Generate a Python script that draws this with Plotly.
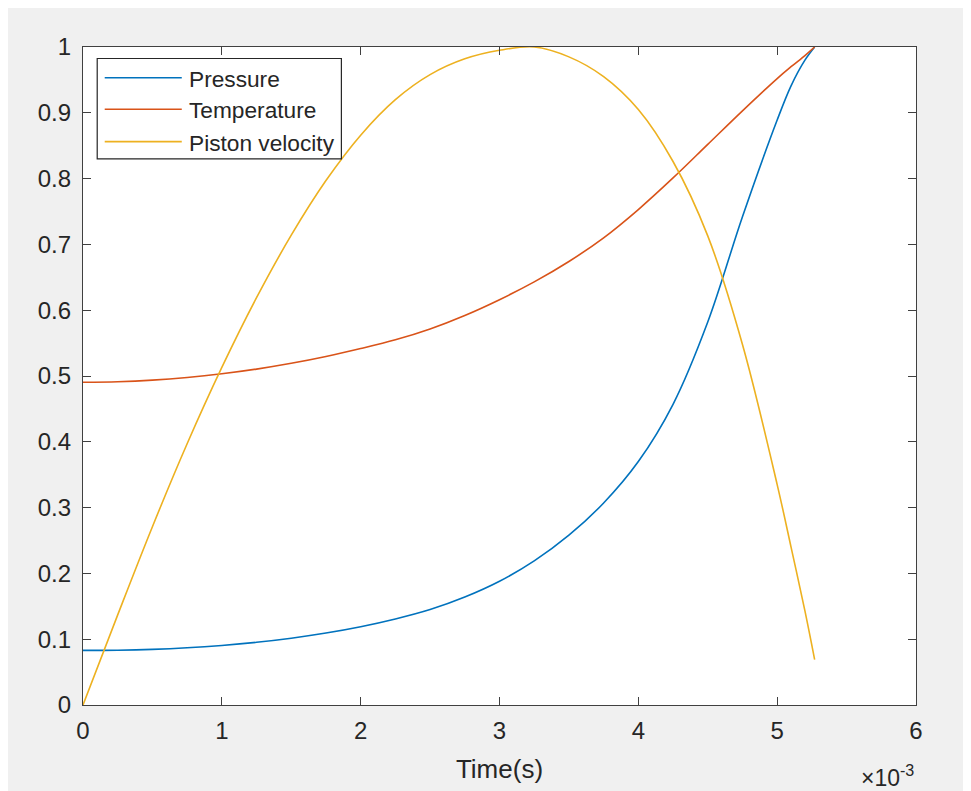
import plotly.graph_objects as go

# ---------------- data ----------------
time_ms = [0, 0.25, 0.5, 0.75, 1, 1.25, 1.5, 1.75, 2, 2.25, 2.5, 2.75, 3,
           3.25, 3.5, 3.75, 4, 4.25, 4.5, 4.75, 5, 5.1, 5.2, 5.27]
pressure = [0.083, 0.0833, 0.0845, 0.0869, 0.0905, 0.0953, 0.1015, 0.1093, 0.1189,
            0.1307, 0.145, 0.164, 0.188, 0.219, 0.258, 0.307, 0.370, 0.457,
            0.582, 0.742, 0.889, 0.941, 0.980, 1.0]
temperature = [0.4905, 0.4913, 0.4937, 0.4977, 0.5033, 0.5105, 0.5193, 0.5297, 0.5417,
               0.555, 0.5715, 0.592, 0.616, 0.643, 0.674, 0.710, 0.753, 0.801,
               0.852, 0.903, 0.952, 0.970, 0.987, 1.0]
piston_velocity = [0.0, 0.137, 0.271, 0.397, 0.513, 0.619, 0.714, 0.797, 0.866,
                   0.920, 0.958, 0.982, 0.995, 1.0, 0.985, 0.955, 0.905, 0.826,
                   0.713, 0.548, 0.335, 0.240, 0.143, 0.069]
series_names = ["Pressure", "Temperature", "Piston velocity"]
series_colors = ["#0072BD", "#D95319", "#EDB120"]
x_tick_vals = [0, 0.001, 0.002, 0.003, 0.004, 0.005, 0.006]
x_tick_text = ["0", "1", "2", "3", "4", "5", "6"]
y_tick_vals = [0, 0.1, 0.2, 0.3, 0.4, 0.5, 0.6, 0.7, 0.8, 0.9, 1.0]
y_tick_text = ["0", "0.1", "0.2", "0.3", "0.4", "0.5", "0.6", "0.7", "0.8", "0.9", "1"]

time_s = [t * 1e-3 for t in time_ms]

OFF = 8  # page body margin
W, H = 971 - OFF, 791 - OFF
L, T = 83.3 - OFF, 47 - OFF
R = W - (915.7 - OFF)
B = H - (705.5 - OFF)
pw, ph = W - L - R, H - T - B

def px(x):
    return (x - OFF - L) / pw

def py(y):
    return (H - B - (y - OFF)) / ph

FONT = "Liberation Sans, Arial, sans-serif"
TXT = "#262626"

fig = go.Figure()
for name, vals, col in zip(series_names, [pressure, temperature, piston_velocity], series_colors):
    fig.add_trace(go.Scatter(x=time_s, y=vals, mode="lines", name=name,
                             line=dict(color=col, width=1.6, shape="spline", smoothing=1.0),
                             cliponaxis=False, showlegend=False))

shapes = [
    dict(type="rect", xref="paper", yref="paper", x0=px(97.5), x1=px(341.5), y0=py(159), y1=py(58.5),
         fillcolor="white", line=dict(color="#262626", width=1.2)),
]
annotations = []
legend_y = [77.7, 109.3, 141.7]
for name, col, ly in zip(series_names, series_colors, legend_y):
    shapes.append(dict(type="line", xref="paper", yref="paper", x0=px(105), x1=px(182),
                       y0=py(ly), y1=py(ly), line=dict(color=col, width=1.6)))
    annotations.append(dict(text=name, xref="paper", yref="paper", x=px(187), y=py(ly + 1),
                            xanchor="left", yanchor="middle", showarrow=False,
                            font=dict(family=FONT, size=22.7, color=TXT)))

annotations.append(dict(text="×10<sup>-3</sup>", xref="paper", yref="paper", x=px(916), y=py(777),
                        xanchor="right", yanchor="middle", showarrow=False,
                        font=dict(family=FONT, size=23, color=TXT)))

axis_common = dict(showline=True, linecolor="#404040", linewidth=1.2, mirror="ticks",
                   ticks="inside", ticklen=8, tickwidth=1.2, tickcolor="#404040",
                   showgrid=False, zeroline=False,
                   tickfont=dict(family=FONT, size=24, color=TXT))

fig.update_layout(
    width=W, height=H,
    margin=dict(l=L, r=R, t=T, b=B, pad=0),
    paper_bgcolor="#f0f0f0", plot_bgcolor="white",
    xaxis=dict(range=[0, 0.006], tickvals=x_tick_vals, ticktext=x_tick_text,
               title=dict(text="Time(s)", font=dict(family=FONT, size=26, color=TXT), standoff=16),
               ticklabelstandoff=4, **axis_common),
    yaxis=dict(range=[0, 1], tickvals=y_tick_vals, ticktext=y_tick_text,
               ticklabelstandoff=6, **axis_common),
    shapes=shapes, annotations=annotations,
)

fig.write_html("out.html")
